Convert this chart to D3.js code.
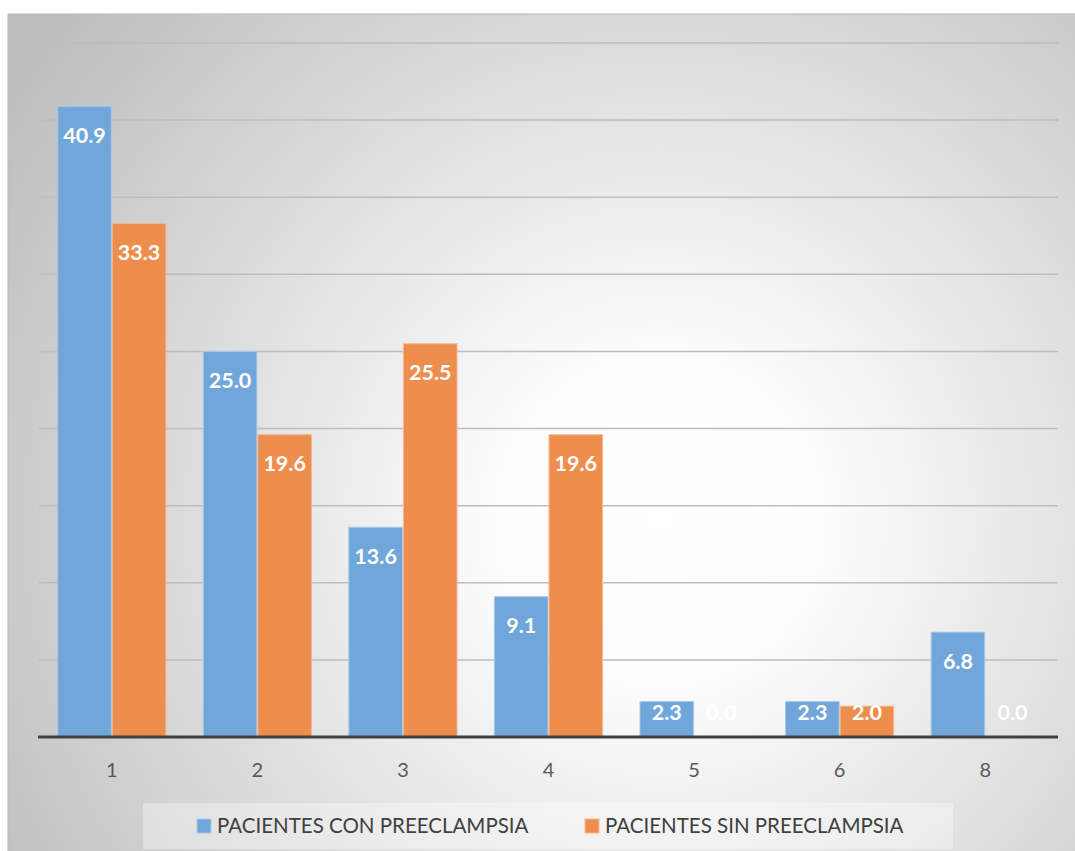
<!DOCTYPE html>
<html><head><meta charset="utf-8">
<script src="https://cdn.jsdelivr.net/npm/d3@7"></script>
<style>html,body{margin:0;padding:0;background:#fff;overflow:hidden}</style>
</head><body>
<svg id="chart" width="1075" height="851"></svg>
<script>
const categories = ["1","2","3","4","5","6","8"];
const seriesNames = ["PACIENTES CON PREECLAMPSIA","PACIENTES SIN PREECLAMPSIA"];
const conPreeclampsia = [40.9, 25.0, 13.6, 9.1, 2.3, 2.3, 6.8];
const sinPreeclampsia = [33.3, 19.6, 25.5, 19.6, 0.0, 2.0, 0.0];
const yTicks = [0,5,10,15,20,25,30,35,40,45];
const colors = ["#70a6d9","#ee8e4e"];

const svg = d3.select("#chart");
const defs = svg.append("defs");
const rg = defs.append("radialGradient").attr("id","bg")
  .attr("gradientUnits","userSpaceOnUse")
  .attr("cx",660).attr("cy",520).attr("r",780);
rg.append("stop").attr("offset","0").attr("stop-color","#ffffff");
rg.append("stop").attr("offset","0.2").attr("stop-color","#fdfdfd");
rg.append("stop").attr("offset","1").attr("stop-color","#bdbdbd");

svg.append("rect").attr("x",8).attr("y",14).attr("width",1080).attr("height",850)
  .attr("fill","url(#bg)").attr("stroke","#bfbfbf").attr("stroke-width",1.2);

const x0 = d3.scaleBand().domain(categories).range([39,1058]).paddingInner(0.25).paddingOuter(0.125);
const x1 = d3.scaleBand().domain(seriesNames).range([0,x0.bandwidth()]);
const y = d3.scaleLinear().domain([0,45]).range([737,43]);

const grid = svg.append("g");
grid.selectAll("line").data(yTicks.filter(d=>d>0)).join("line")
  .attr("x1",39).attr("x2",1058)
  .attr("y1",d=>y(d)).attr("y2",d=>y(d))
  .attr("stroke","#bdbdbd").attr("stroke-width",1.5);

const rows = categories.map((c,i)=>({cat:c, vals:[conPreeclampsia[i], sinPreeclampsia[i]]}));

const groups = svg.append("g").selectAll("g").data(rows).join("g")
  .attr("transform",d=>`translate(${x0(d.cat)},0)`);

groups.selectAll("rect").data(d=>d.vals.map((v,k)=>({v,k}))).join("rect")
  .attr("x",d=>x1(seriesNames[d.k])+0.5)
  .attr("width",x1.bandwidth()-1)
  .attr("y",d=>y(d.v))
  .attr("height",d=>y(0)-y(d.v))
  .attr("fill",d=>colors[d.k])
  .attr("stroke",d=>d.k===0?"#a9c9ea":"#f6b98f")
  .attr("stroke-width",1)
  .attr("display",d=>d.v>0?null:"none");

groups.selectAll("text").data(d=>d.vals.map((v,k)=>({v,k}))).join("text")
  .attr("x",d=>x1(seriesNames[d.k])+x1.bandwidth()/2)
  .attr("y",d=>Math.min(y(d.v)+29, 712))
  .attr("dy","0.36em")
  .attr("text-anchor","middle")
  .attr("font-family","Lato, 'Open Sans', sans-serif")
  .attr("font-weight","bold")
  .attr("font-size",21.5)
  .attr("fill","#ffffff")
  .text(d=>d.v.toFixed(1));

svg.append("line").attr("x1",38).attr("x2",1058).attr("y1",y(0)).attr("y2",y(0))
  .attr("stroke","#404040").attr("stroke-width",3);

const xAxis = d3.axisBottom(x0).tickSize(0).tickPadding(0);
const ax = svg.append("g").attr("transform","translate(0,770)").call(xAxis);
ax.select(".domain").remove();
ax.selectAll("text").attr("dy","0.36em").attr("font-family","Lato, 'Open Sans', sans-serif")
  .attr("font-size",20).attr("fill","#595959");

const lg = svg.append("g");
lg.append("rect").attr("x",143).attr("y",803).attr("width",810).attr("height",46)
  .attr("fill","#ffffff").attr("fill-opacity",0.35);
const legendPos = [197, 585];
const li = lg.selectAll("g").data(seriesNames).join("g")
  .attr("transform",(d,i)=>`translate(${legendPos[i]},819)`);
li.append("rect").attr("width",14).attr("height",14)
  .attr("fill",(d,i)=>colors[i]).attr("stroke",(d,i)=>i===0?"#a9c9ea":"#f6b98f");
li.append("text").attr("x",20).attr("y",7).attr("dy","0.36em")
  .attr("font-family","Lato, 'Open Sans', sans-serif").attr("font-size",20.5)
  .attr("fill","#404040").text(d=>d);
</script>
</body></html>
